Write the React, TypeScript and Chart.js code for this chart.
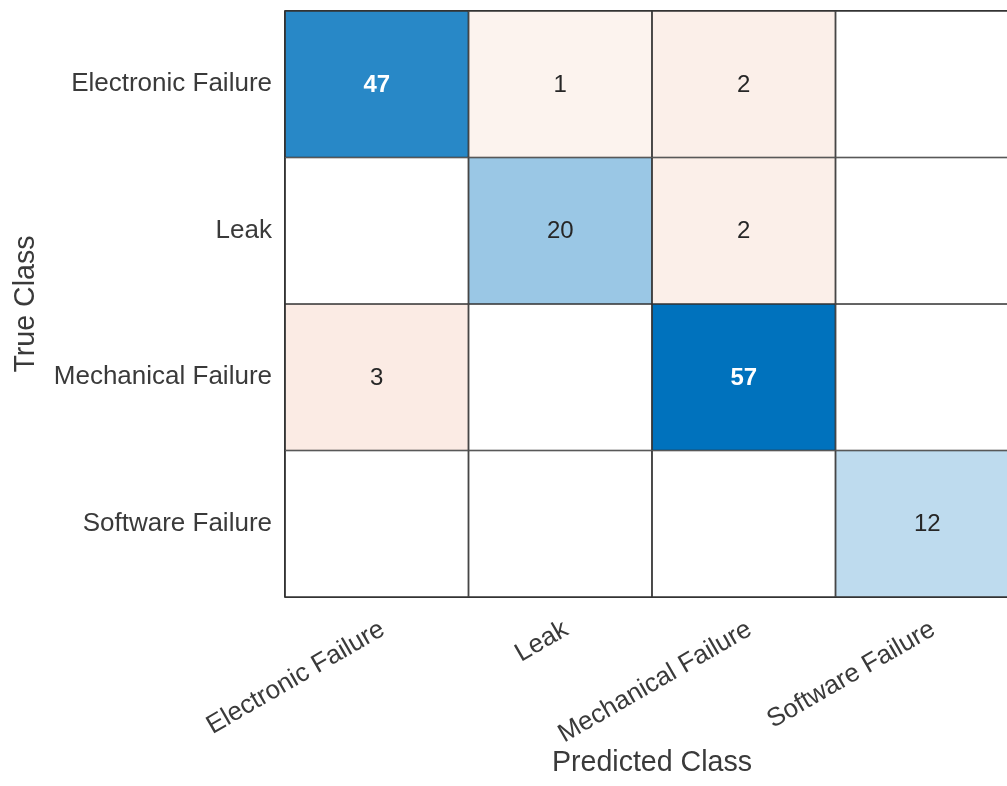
import React, { useEffect, useRef } from "react";
import { Chart, registerables } from "chart.js";

Chart.register(...registerables);

// ---- data ----
const trueClasses = ["Electronic Failure", "Leak", "Mechanical Failure", "Software Failure"];
const predictedClasses = ["Electronic Failure", "Leak", "Mechanical Failure", "Software Failure"];
const electronicRow = [47, 1, 2, 0];
const leakRow = [0, 20, 2, 0];
const mechanicalRow = [3, 0, 57, 0];
const softwareRow = [0, 0, 0, 12];
const countRows = [electronicRow, leakRow, mechanicalRow, softwareRow];
const xTitle = "Predicted Class";
const yTitle = "True Class";

// ---- style ----
const FONT = "'Liberation Sans', Arial, Helvetica, sans-serif";
const TEXT = "#3a3a3a";
const GRID = "#333333";
const DIAG_RGB = [0, 114, 189];
const OFF_RGB = [217, 83, 25];

function mix(c: number[], t: number) {
  const r = Math.round(255 + (c[0] - 255) * t);
  const g = Math.round(255 + (c[1] - 255) * t);
  const b = Math.round(255 + (c[2] - 255) * t);
  return `rgb(${r},${g},${b})`;
}

const maxCount = Math.max(...countRows.flat());

function cellColor(v: number, diag: boolean) {
  if (v === 0) return "#ffffff";
  if (diag) return mix(DIAG_RGB, Math.pow(v / maxCount, 0.88));
  return mix(OFF_RGB, 0.05 + 0.022 * v);
}

const cellLabels = {
  id: "cellLabels",
  afterDatasetsDraw(chart: any) {
    const ctx = chart.ctx;
    ctx.save();
    // outer frame
    const a = chart.chartArea;
    ctx.strokeStyle = GRID;
    ctx.lineWidth = 1;
    ctx.beginPath();
    ctx.moveTo(a.left - 0.5, a.bottom + 0.5);
    ctx.lineTo(a.left - 0.5, a.top - 0.5);
    ctx.lineTo(a.right + 0.5, a.top - 0.5);
    ctx.moveTo(a.left - 0.5, a.bottom + 0.5);
    ctx.lineTo(a.right + 0.5, a.bottom + 0.5);
    ctx.stroke();

    ctx.textAlign = "center";
    ctx.textBaseline = "middle";
    chart.data.datasets.forEach((ds: any, i: number) => {
      const meta = chart.getDatasetMeta(i);
      meta.data.forEach((bar: any, j: number) => {
        const v = countRows[i][j];
        if (!v) return;
        const p = bar.getCenterPoint();
        const dark = i === j && v / maxCount > 0.6;
        ctx.fillStyle = dark ? "#ffffff" : "#262626";
        ctx.font = `${dark ? "bold " : ""}24px ${FONT}`;
        ctx.fillText(String(v), p.x, p.y + 1);
      });
    });
    ctx.restore();
  },
};

export default function App() {
  const canvasRef = useRef<HTMLCanvasElement | null>(null);

  useEffect(() => {
    if (!canvasRef.current) return;
    const datasets = countRows.map((row, i) => ({
      label: trueClasses[i],
      data: row.map(() => [i - 0.5, i + 0.5]),
      backgroundColor: row.map((v, j) => cellColor(v, i === j)),
      borderColor: GRID,
      borderWidth: 1.2,
      borderSkipped: false,
      grouped: false,
      barPercentage: 1,
      categoryPercentage: 1,
    }));

    const chart = new Chart(canvasRef.current, {
      type: "bar",
      data: { labels: predictedClasses, datasets: datasets as any },
      plugins: [cellLabels],
      options: {
        animation: false,
        responsive: true,
        maintainAspectRatio: false,
        layout: { padding: { top: 11, right: 0, left: 0, bottom: 0 } },
        plugins: { legend: { display: false }, tooltip: { enabled: false } },
        scales: {
          x: {
            type: "category",
            offset: true,
            grid: { display: false, drawTicks: false },
            border: { display: false },
            ticks: {
              autoSkip: false,
              maxRotation: 30,
              minRotation: 30,
              padding: 17,
              labelOffset: 6,
              color: TEXT,
              font: { family: FONT, size: 26 },
            },
            title: {
              display: true,
              text: xTitle,
              color: TEXT,
              font: { family: FONT, size: 28.6 },
              padding: { top: 0, bottom: 6 },
            },
            afterFit: (scale: any) => {
              scale.height = 189;
              scale.paddingLeft = 0;
              scale.paddingRight = 0;
            },
          },
          y: {
            type: "linear",
            reverse: true,
            min: -0.5,
            max: 3.5,
            grid: { display: false, drawTicks: false },
            border: { display: false },
            afterBuildTicks: (scale: any) => {
              scale.ticks = trueClasses.map((_, i) => ({ value: i }));
            },
            ticks: {
              padding: 13,
              color: TEXT,
              font: { family: FONT, size: 26 },
              callback: (value: any) => trueClasses[Number(value)] ?? "",
            },
            title: {
              display: true,
              text: yTitle,
              color: TEXT,
              font: { family: FONT, size: 28.6 },
              padding: { top: 9, bottom: 0 },
            },
            afterFit: (scale: any) => {
              scale.width = 285;
              scale.paddingTop = 0;
              scale.paddingBottom = 0;
            },
          },
        },
      } as any,
    });
    return () => chart.destroy();
  }, []);

  return (
    <div
      style={{
        position: "absolute",
        left: 0,
        top: 0,
        width: 1007,
        height: 786,
        overflow: "hidden",
        background: "#ffffff",
      }}
    >
      <div style={{ position: "relative", width: 1019, height: 786 }}>
        <canvas ref={canvasRef} />
      </div>
    </div>
  );
}
